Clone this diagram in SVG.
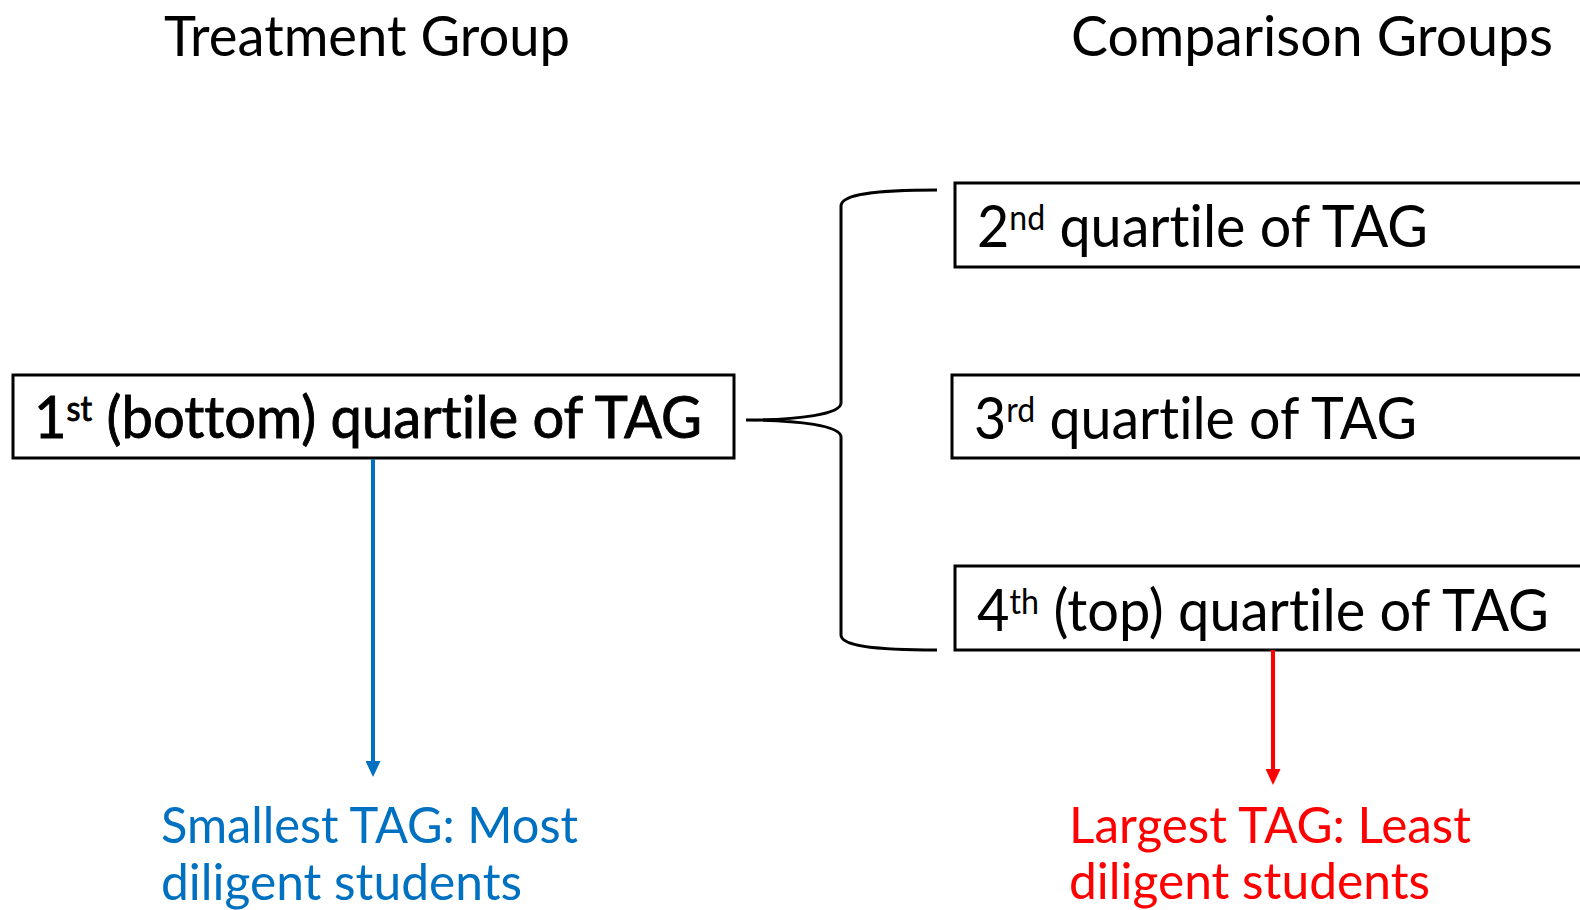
<svg xmlns="http://www.w3.org/2000/svg" width="1580" height="910" viewBox="0 0 1580 910">
  <style>
    text { font-variant-ligatures: none; font-feature-settings: "liga" 0, "clig" 0; }
    .title { font-family: Lato, "Open Sans", sans-serif; font-size: 56px; fill: #000; }
    .box { fill: #fff; stroke: #000; stroke-width: 3; }
    .label { font-family: Lato, "Open Sans", sans-serif; font-size: 59px; fill: #000; }
    .strong { stroke: #000; stroke-width: 0.9; }
    .sup { font-size: 34px; }
    .note { font-family: Lato, "Open Sans", sans-serif; font-size: 51px; }
    .blue { fill: #0070C0; }
    .red { fill: #FF0000; }
    .brace { fill: none; stroke: #000; stroke-width: 3; }
  </style>
  <defs>
    <marker id="head-blue" viewBox="0 0 16 15" refX="6" refY="7.5" markerWidth="16" markerHeight="15" markerUnits="userSpaceOnUse" orient="auto">
      <path d="M0,0 L16,7.5 L0,15 z" fill="#0070C0"/>
    </marker>
    <marker id="head-red" viewBox="0 0 16 15" refX="6" refY="7.5" markerWidth="16" markerHeight="15" markerUnits="userSpaceOnUse" orient="auto">
      <path d="M0,0 L16,7.5 L0,15 z" fill="#FF0000"/>
    </marker>
  </defs>

  <rect width="1580" height="910" fill="#fff"/>

  <!-- column headings -->
  <g id="heading-treatment">
    <text class="title" x="164" y="56" textLength="406" lengthAdjust="spacingAndGlyphs">Treatment Group</text>
  </g>
  <g id="heading-comparison">
    <text class="title" x="1071" y="56" textLength="482" lengthAdjust="spacingAndGlyphs">Comparison Groups</text>
  </g>

  <!-- quartile boxes -->
  <g id="q1">
    <rect class="box" x="13" y="375" width="721" height="83"/>
    <text class="label strong" x="34" y="438" textLength="668" lengthAdjust="spacingAndGlyphs">1<tspan class="sup" dy="-17">st</tspan><tspan dy="17"> (bottom) quartile of TAG</tspan></text>
  </g>
  <g id="q2">
    <rect class="box" x="955" y="183" width="660" height="84"/>
    <text class="label" x="977" y="247" textLength="451" lengthAdjust="spacingAndGlyphs">2<tspan class="sup" dy="-17">nd</tspan><tspan dy="17"> quartile of TAG</tspan></text>
  </g>
  <g id="q3">
    <rect class="box" x="952" y="375" width="660" height="83"/>
    <text class="label" x="974" y="439" textLength="443" lengthAdjust="spacingAndGlyphs">3<tspan class="sup" dy="-17">rd</tspan><tspan dy="17"> quartile of TAG</tspan></text>
  </g>
  <g id="q4">
    <rect class="box" x="955" y="566" width="660" height="84"/>
    <text class="label" x="977" y="631" textLength="572" lengthAdjust="spacingAndGlyphs">4<tspan class="sup" dy="-17">th</tspan><tspan dy="17"> (top) quartile of TAG</tspan></text>
  </g>

  <!-- outcome notes -->
  <g id="note-smallest" class="note blue">
    <text x="161" y="843" textLength="417" lengthAdjust="spacingAndGlyphs">Smallest TAG: Most</text>
    <text x="161" y="900" textLength="361" lengthAdjust="spacingAndGlyphs">diligent students</text>
  </g>
  <g id="note-largest" class="note red">
    <text x="1069" y="843" textLength="402" lengthAdjust="spacingAndGlyphs">Largest TAG: Least</text>
    <text x="1069" y="899" textLength="361" lengthAdjust="spacingAndGlyphs">diligent students</text>
  </g>

  <!-- connectors -->
  <g id="connectors">
    <path class="brace" d="M937,190 C870,190 841,195 841,206 L841,403 C841,414 800,420 746,420 C800,420 841,426 841,437 L841,635 C841,645 870,650 937,650"/>
    <line x1="373" y1="459" x2="373" y2="767" stroke="#0070C0" stroke-width="4" marker-end="url(#head-blue)"/>
    <line x1="1273" y1="650" x2="1273" y2="775" stroke="#FF0000" stroke-width="4" marker-end="url(#head-red)"/>
  </g>
</svg>
